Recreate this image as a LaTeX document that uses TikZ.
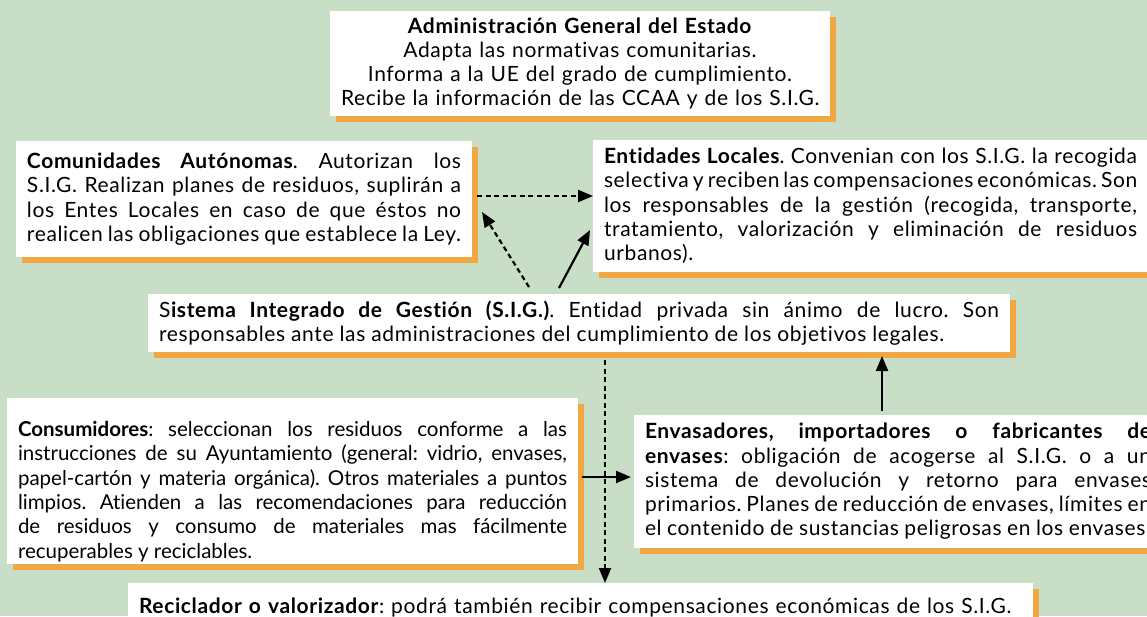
\documentclass[tikz,border=0pt]{standalone}
\usepackage{fontspec}
\setmainfont{Lato}[LetterSpace=3, Ligatures=NoCommon]
\newfontfamily\estrecha{Lato}[Ligatures=NoCommon]
\usepackage{tikz}
\usetikzlibrary{arrows.meta,shadows}
\tikzset{>={Triangle[length=15pt,width=12pt]}}
\usepackage{xcolor}
\definecolor{fondo}{HTML}{C9DEC6}
\definecolor{sombra}{HTML}{F1A843}
\frenchspacing
\newcommand{\letra}{\fontsize{21}{24.3}\selectfont\parindent=0pt\tolerance=9999\hbadness=10000
  \hyphenpenalty=10000\exhyphenpenalty=10000\relax}
\tikzset{
  caja/.style={fill=white, inner xsep=11pt, inner ysep=0pt, outer sep=0pt,
    anchor=north west, font=\letra, align=justify,
    drop shadow={shadow xshift=6pt, shadow yshift=-6pt, fill=sombra, opacity=1}},
  flecha/.style={->, line width=2.2pt},
  flechapunt/.style={->, line width=2.2pt, dash pattern=on 5pt off 3.5pt}
}

\begin{document}
\begin{tikzpicture}[x=1pt, y=-1pt]
            \useasboundingbox (0,0) rectangle (1147,616);
            \fill[fondo] (0,0) rectangle (1147,616);
            % Administracion General del Estado
            \node[caja, text width=478pt, minimum height=105pt, align=center] (age) at (330,11)
                {\textbf{Administración General del Estado}\\
                 Adapta las normativas comunitarias.\\
                 Informa a la UE del grado de cumplimiento.\\
                 Recibe la información de las CCAA y de los S.I.G.};
            % Comunidades Autonomas
            \node[caja, text width=434pt, minimum height=116pt] (ca) at (16,141)
                {\parfillskip=0pt \textbf{Comunidades Autónomas}. Autorizan los\linebreak
                 S.I.G. Realizan planes de residuos, suplirán a\linebreak
                 los Entes Locales en caso de que éstos no\linebreak
                 realicen las obligaciones que establece la Ley.};
            % Entidades Locales
            \node[caja, text width=533pt, minimum height=132pt] (el) at (593,140)
                {\textbf{Entidades Locales}. Convenian con los S.I.G. la recogida\linebreak
                 selectiva y reciben las compensaciones económicas. Son\linebreak
                 los responsables de la gestión (recogida, transporte,\linebreak
                 tratamiento, valorización y eliminación de residuos\linebreak
                 urbanos).};
            % S.I.G.
            \node[caja, text width=840pt, minimum height=58pt] (sig) at (148,294)
                {\parfillskip=0pt S\textbf{istema Integrado de Gestión (S.I.G.)}. Entidad privada sin ánimo de lucro. Son\linebreak
                 responsables ante las administraciones del cumplimiento de los objetivos legales.};
            % Consumidores (letra mas estrecha)
            \node[caja, text width=549pt, minimum height=166pt] (cons) at (7,398)
                {\estrecha\fontsize{20.5}{24}\selectfont
                 \rule{0pt}{36pt}\textbf{Consumidores}: seleccionan los residuos conforme a las\linebreak
                 instrucciones de su Ayuntamiento (general: vidrio, envases,\linebreak
                 papel-cartón y materia orgánica). Otros materiales a puntos\linebreak
                 limpios. Atienden a las recomendaciones para reducción\linebreak
                 de residuos y consumo de materiales mas fácilmente\linebreak
                 recuperables y reciclables.};
            % Envasadores
            \node[caja, text width=506pt, minimum height=133pt] (env) at (634,415)
                {\parfillskip=0pt \textbf{Envasadores, importadores o fabricantes de\linebreak
                 envases}: obligación de acogerse al S.I.G. o a un\linebreak
                 sistema de devolución y retorno para envases\linebreak
                 primarios. Planes de reducción de envases, límites en\linebreak
                 el contenido de sustancias peligrosas en los envases.};
            % Reciclador
            \node[caja, text width=883pt, minimum height=48pt, align=left] (rec) at (128,583)
                {\textbf{Reciclador o valorizador}: podrá también recibir compensaciones económicas de los S.I.G.};
            % CCAA -> Entidades Locales
            \draw[flechapunt] ([xshift=5pt,yshift=3pt]ca.east) -- ([yshift=3pt]ca.east -| el.west);
            % S.I.G. -> CCAA y Entidades Locales
            \draw[flechapunt] ([xshift=-50pt,yshift=7pt]sig.north) -- ([xshift=10pt,yshift=-13pt]ca.east);
            \draw[flecha] ([xshift=-20pt,yshift=6pt]sig.north) -- ([xshift=-3pt,yshift=-24pt]el.west);
            % S.I.G. -> Reciclador
            \draw[flechapunt] ([xshift=26pt,yshift=-8pt]sig.south) -- ([xshift=26pt]sig.south |- rec.north);
            % Consumidores -> Envasadores -> S.I.G.
            \draw[flecha] ([xshift=4pt,yshift=4pt]cons.east) -- ([xshift=-3pt,yshift=4pt]cons.east -| env.west);
            \draw[flecha] ([xshift=-16pt,yshift=4pt]env.north) -- ([xshift=-16pt,yshift=-4pt]env.north |- sig.south);
        \end{tikzpicture}
\end{document}
